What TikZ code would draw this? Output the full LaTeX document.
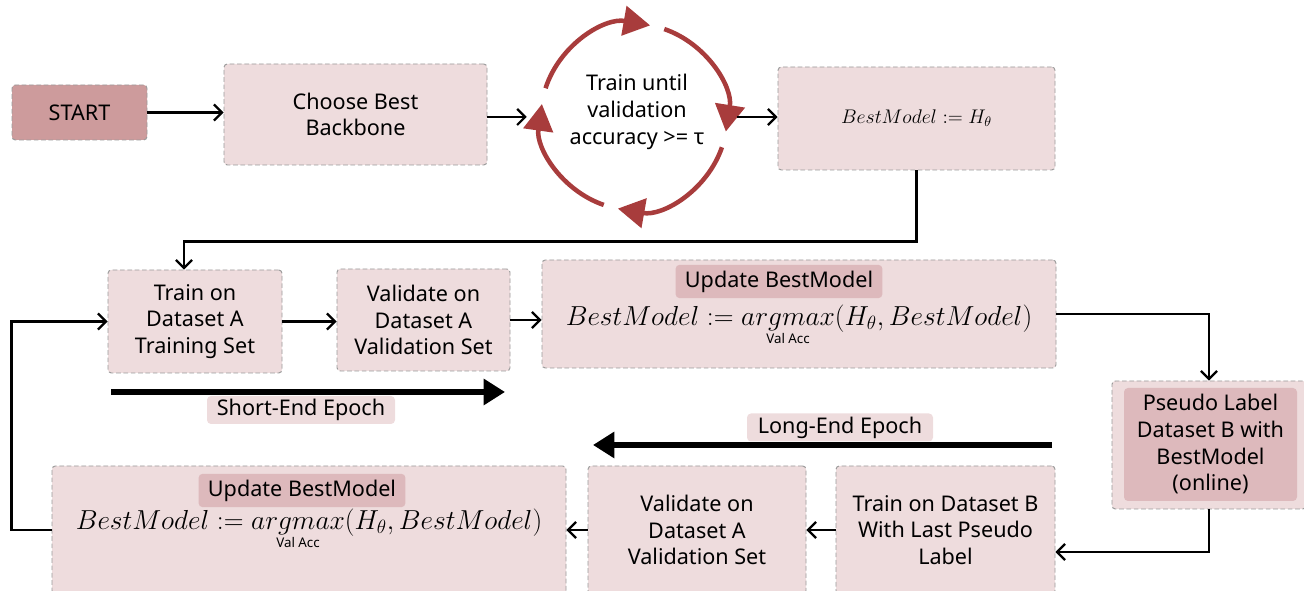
\RequirePackage{fix-cm}
\documentclass[tikz,border=0pt]{standalone}
\usepackage{fontspec}
\setsansfont{Noto Sans}
\usetikzlibrary{arrows.meta,calc}
\definecolor{boxfill}{HTML}{EEDCDD}
\definecolor{tagfill}{HTML}{DDB9BC}
\definecolor{startfill}{HTML}{CD9B9C}
\definecolor{cyclered}{HTML}{A83C3C}
\definecolor{dashgray}{HTML}{9A9A9A}

\begin{document}
\begin{tikzpicture}[
  x=0.75pt,y=0.75pt,
  font=\sffamily\fontsize{16.2}{20}\selectfont,
  stepbox/.style={draw=dashgray,dash pattern=on 3.5pt off 2pt,line width=0.7pt,
    fill=boxfill,rounded corners=2.5pt,align=center,inner sep=0pt},
  tag/.style={fill=tagfill,rounded corners=3pt,inner xsep=7pt,inner ysep=0pt,
    minimum height=25pt},
  epochtag/.style={fill=boxfill,rounded corners=3pt,inner xsep=5pt,inner ysep=0pt,
    minimum height=21pt},
  formula/.style={font=\fontsize{20.6}{24}\selectfont},
  conn/.style={-{Straight Barb[length=6pt,width=12pt]},line width=1.7pt},
  epoch/.style={-{Triangle[length=16pt,width=19pt]},line width=3.8pt},
  cyc/.style={draw=cyclered,line width=3.4pt,-{Triangle[length=20pt,width=22pt]}}
]
\useasboundingbox (0,0) rectangle (1304,591);
\clip (0,0) rectangle (1304,591);
% top row
\node[stepbox,fill=startfill,minimum width=101.25pt,minimum height=41.25pt] (start) at (79.5,478.5) {START};
\node[stepbox,minimum width=197.25pt,minimum height=75.75pt] (backbone) at (355.5,476.5) {Choose Best\\Backbone};
\node[circle,minimum size=139.5pt,inner sep=0pt] (loop) at (634,474) {};
\node[align=center] (looptext) at (637,479) {Train until\\validation\\accuracy >= τ};
\foreach \a/\b in {162/80,71/-9,-19/-100,-109/-188}
  \draw[cyc] ([shift={(\a:93)}]loop.center) arc[start angle=\a,end angle=\b,radius=93];
\node[stepbox,minimum width=207.75pt,minimum height=77.25pt,font=\fontsize{14.8}{17}\selectfont] (best) at (916.5,472.5) {$BestModel := H_\theta$};
% short-end epoch
\node[stepbox,minimum width=130.5pt,minimum height=77.25pt] (trainA) at (195,269.5) {Train on\\Dataset A\\Training Set};
\node[stepbox,minimum width=129.75pt,minimum height=76.5pt] (valA) at (423.5,271) {Validate on\\Dataset A\\Validation Set};
\node[stepbox,minimum width=385.5pt,minimum height=81pt] (updA) at (799,277) {};
\node[tag] (tagA) at (779,309.5) {Update BestModel};
\node[formula] (fA) at (799,266) {$BestModel := \mathop{argmax}\limits_{\hbox{\fontsize{10}{11}\selectfont\sffamily Val Acc}}(H_\theta, BestModel)$};
\coordinate (sA) at (111,199);
\coordinate (sB) at (505,199);
\node[epochtag,minimum width=141pt] (shortlbl) at (301,181) {Short-End Epoch};
% long-end epoch
\node[stepbox,minimum width=145.5pt,minimum height=96pt] (pseudo) at (1209,146) {};
\node[fill=tagfill,rounded corners=3pt,minimum width=129.75pt,minimum height=84.75pt,align=center,inner sep=0pt] (pseudoin) at (1210.5,146.5) {Pseudo Label\\Dataset B with\\BestModel\\(online)};
\coordinate (lA) at (1052,146);
\coordinate (lB) at (593,146);
\node[epochtag,minimum width=139.5pt] (longlbl) at (840,163.5) {Long-End Epoch};
\node[stepbox,minimum width=164.25pt,minimum height=96pt] (trainB) at (945.5,61) {Train on Dataset B\\With Last Pseudo\\Label};
\node[stepbox,minimum width=163.5pt,minimum height=96pt] (valB) at (697,61) {Validate on\\Dataset A\\Validation Set};
\node[stepbox,minimum width=385.5pt,minimum height=96pt] (updB) at (309,61) {};
\node[tag] (tagB) at (302,100.5) {Update BestModel};
\node[formula] (fB) at (309,62) {$BestModel := \mathop{argmax}\limits_{\hbox{\fontsize{10}{11}\selectfont\sffamily Val Acc}}(H_\theta, BestModel)$};
% connectors
\draw[conn] (start.east) -- (start.east -| backbone.west);
\draw[conn] (backbone.east |- loop.west) -- ([xshift=-10.5pt]loop.west);
\draw[conn] ([xshift=7pt]loop.east) -- (loop.east -| best.west);
\draw[conn] (best.south) -- ++(0,-71) -| ([xshift=-8.25pt]trainA.north);
\draw[conn] (trainA.east) -- (trainA.east -| valA.west);
\draw[conn] (valA.east) -- (valA.east -| updA.west);
\draw[conn] (updA.east) -| (pseudo.north);
\draw[conn] (pseudo.south) |- ([yshift=-16.5pt]trainB.east);
\draw[conn] (trainB.west) -- (valB.east);
\draw[conn] (valB.west) -- (updB.east);
\draw[conn] (updB.west) -- ++(-40,0) |- (trainA.west);
\draw[epoch] (sA) -- (sB);
\draw[epoch] (lA) -- (lB);
\end{tikzpicture}
\end{document}
